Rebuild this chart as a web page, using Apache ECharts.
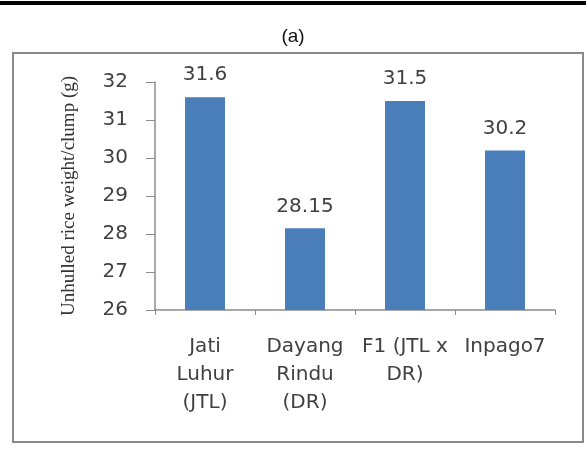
<!DOCTYPE html>
<html><head><meta charset="utf-8">
<script src="https://cdn.jsdelivr.net/npm/echarts@6/dist/echarts.min.js"></script>
<style>html,body{margin:0;padding:0;background:#fff}#c{width:586px;height:463px}</style>
</head><body><div id="c"></div>
<script>
const categories = ["Jati\nLuhur\n(JTL)", "Dayang\nRindu\n(DR)", "F1 (JTL x\nDR)", "Inpago7"];
const values = [31.6, 28.15, 31.5, 30.2];
const valueLabels = ["31.6", "28.15", "31.5", "30.2"];
const yTicks = {min: 26, max: 32, interval: 1};
const yTitle = "Unhulled rice weight/clump (g)";
const panelTitle = "(a)";

const chart = echarts.init(document.getElementById('c'));
chart.setOption({
  animation: false,
  backgroundColor: '#fff',
  title: {text: panelTitle, left: 'center', top: 22, textStyle: {fontFamily: 'Liberation Sans', fontSize: 19, fontWeight: 'normal', color: '#111'}},
  graphic: [
    {type: 'rect', shape: {x: 0, y: 1, width: 586, height: 4}, style: {fill: '#000'}},
    {type: 'rect', shape: {x: 13, y: 53, width: 570, height: 389}, style: {fill: 'none', stroke: '#8a8a8a', lineWidth: 2}}
  ],
  grid: {left: 155, right: 31, top: 82, bottom: 153},
  xAxis: {
    type: 'category', data: categories,
    axisLine: {lineStyle: {color: '#8c8c8c', width: 1.5}},
    axisTick: {show: true, length: 5, lineStyle: {color: '#8c8c8c'}},
    axisLabel: {interval: 0, margin: 23, fontFamily: 'DejaVu Sans', fontSize: 20, lineHeight: 28, color: '#404040'}
  },
  yAxis: {
    type: 'value', min: yTicks.min, max: yTicks.max, interval: yTicks.interval,
    name: yTitle, nameLocation: 'middle', nameRotate: 90, nameGap: 76,
    nameTextStyle: {fontFamily: 'Liberation Serif', fontSize: 19, color: '#333'},
    splitLine: {show: false},
    axisLine: {show: true, lineStyle: {color: '#8c8c8c', width: 1.5}},
    axisTick: {show: true, length: 9, lineStyle: {color: '#8c8c8c'}},
    axisLabel: {margin: 27, fontFamily: 'DejaVu Sans', fontSize: 20, color: '#404040'}
  },
  series: [{
    type: 'bar', data: values, barWidth: 40,
    itemStyle: {color: '#4a7ebb'},
    label: {show: true, position: 'top', distance: 12, fontFamily: 'DejaVu Sans', fontSize: 20, color: '#404040',
      formatter: p => valueLabels[p.dataIndex]}
  }]
});
</script></body></html>
